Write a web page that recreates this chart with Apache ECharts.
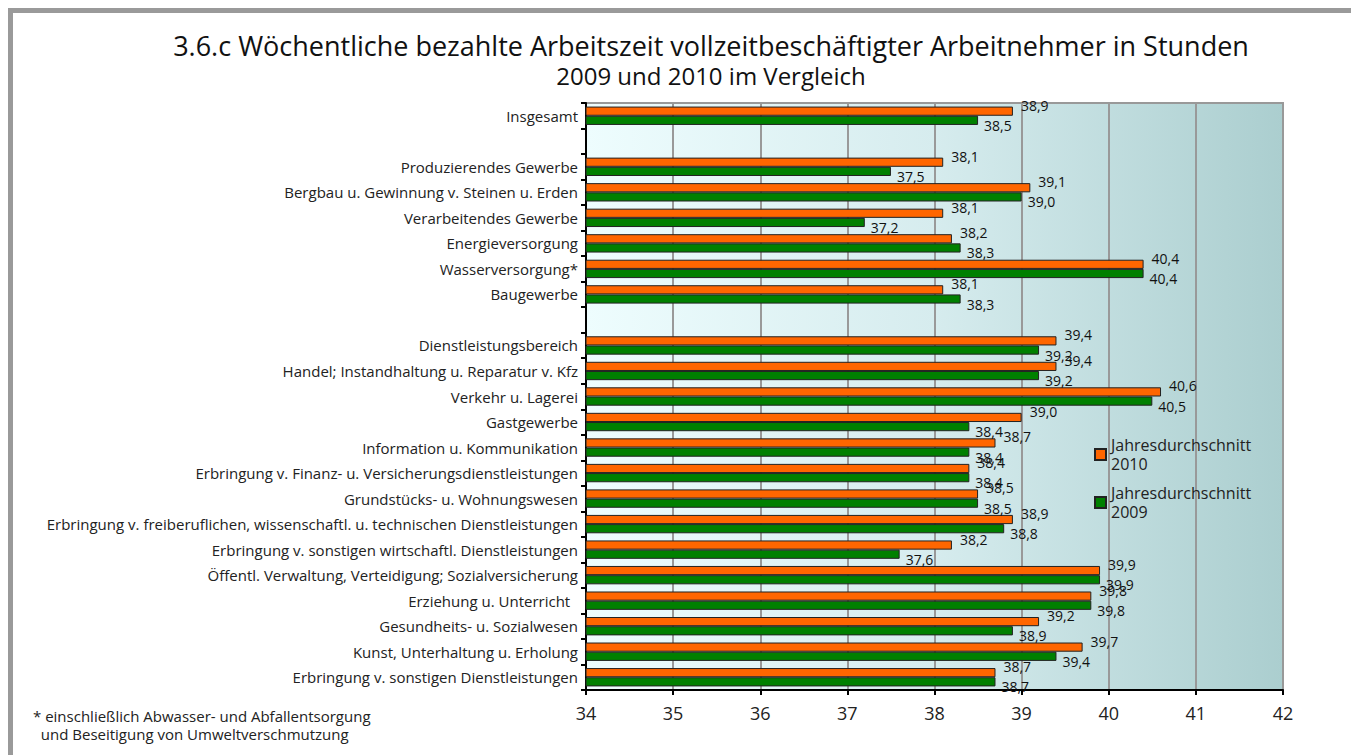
<!DOCTYPE html>
<html>
<head>
<meta charset="utf-8">
<script src="https://cdn.jsdelivr.net/npm/echarts@6/dist/echarts.min.js"></script>
<style>
  html, body { margin: 0; padding: 0; background: #fff; }
  #frame { position: absolute; left: 8px; top: 8px; width: 1400px; height: 800px; border: 5px solid #9a9a9a; box-sizing: border-box; }
  #chart { position: absolute; left: 0; top: 0; width: 1351px; height: 755px; }
</style>
</head>
<body>
<div id="frame"></div>
<div id="chart"></div>
<script>
var categories = [
  'Insgesamt',
  '',
  'Produzierendes Gewerbe',
  'Bergbau u. Gewinnung v. Steinen u. Erden',
  'Verarbeitendes Gewerbe',
  'Energieversorgung',
  'Wasserversorgung*',
  'Baugewerbe',
  ' ',
  'Dienstleistungsbereich',
  'Handel; Instandhaltung u. Reparatur v. Kfz',
  'Verkehr u. Lagerei',
  'Gastgewerbe',
  'Information u. Kommunikation',
  'Erbringung v. Finanz- u. Versicherungsdienstleistungen',
  'Grundstücks- u. Wohnungswesen',
  'Erbringung v. freiberuflichen, wissenschaftl. u. technischen Dienstleistungen',
  'Erbringung v. sonstigen wirtschaftl. Dienstleistungen',
  'Öffentl. Verwaltung, Verteidigung; Sozialversicherung',
  'Erziehung u. Unterricht  ',
  'Gesundheits- u. Sozialwesen',
  'Kunst, Unterhaltung u. Erholung',
  'Erbringung v. sonstigen Dienstleistungen'
];
var values2010 = [38.9, null, 38.1, 39.1, 38.1, 38.2, 40.4, 38.1, null, 39.4, 39.4, 40.6, 39.0, 38.7, 38.4, 38.5, 38.9, 38.2, 39.9, 39.8, 39.2, 39.7, 38.7];
var values2009 = [38.5, null, 37.5, 39.0, 37.2, 38.3, 40.4, 38.3, null, 39.2, 39.2, 40.5, 38.4, 38.4, 38.4, 38.5, 38.8, 37.6, 39.9, 39.8, 38.9, 39.4, 38.7];
var xTicks = { min: 34, max: 42, interval: 1 };

var font = '"Open Sans", "Noto Sans", sans-serif';
function fmt(p) { return p.value == null ? '' : p.value.toFixed(1).replace('.', ','); }

var chart = echarts.init(document.getElementById('chart'), null, { renderer: 'svg' });
chart.setOption({
  animation: false,
  textStyle: { fontFamily: font },
  title: [{
    text: '{a|3.6.c Wöchentliche bezahlte Arbeitszeit vollzeitbeschäftigter Arbeitnehmer in Stunden}\n{b|2009 und 2010 im Vergleich}',
    left: 706, top: 25, textAlign: 'center',
    textStyle: {
      fontFamily: font, fontWeight: 'normal',
      rich: {
        a: { fontSize: 27, fontWeight: 'normal', color: '#111', lineHeight: 30, fontFamily: font },
        b: { fontSize: 24, fontWeight: 'normal', color: '#111', lineHeight: 30, fontFamily: font }
      }
    }
  }, {
    text: '* einschließlich Abwasser- und Abfallentsorgung\n  und Beseitigung von Umweltverschmutzung',
    left: 28, top: 702,
    textStyle: { fontSize: 15, fontWeight: 'normal', color: '#222', lineHeight: 18, fontFamily: font }
  }],
  legend: {
    orient: 'vertical',
    left: 1094, top: 426,
    padding: 0,
    itemWidth: 11, itemHeight: 11, itemGap: -9,
    icon: 'rect',
    data: ['Jahresdurchschnitt 2010', 'Jahresdurchschnitt 2009'],
    formatter: function(n) { return n.replace(' ', '\n'); },
    textStyle: { fontSize: 16, color: '#222', lineHeight: 19, padding: [19, 0, 0, 0], fontFamily: font }
  },
  grid: {
    left: 586, right: 68, top: 103, bottom: 65,
    show: true,
    borderColor: '#999', borderWidth: 2,
    backgroundColor: new echarts.graphic.LinearGradient(0, 0, 1, 0, [
      { offset: 0, color: '#eefdfe' },
      { offset: 0.5, color: '#d6ecee' },
      { offset: 1, color: '#abcecf' }
    ])
  },
  xAxis: {
    type: 'value',
    min: xTicks.min, max: xTicks.max, interval: xTicks.interval,
    axisLine: { show: true, lineStyle: { color: '#000', width: 2 } },
    axisTick: { show: true, length: 5, lineStyle: { color: '#000', width: 2 } },
    axisLabel: { color: '#222', fontSize: 18, margin: 14 },
    splitLine: { show: true, lineStyle: { color: '#999', width: 2 } }
  },
  yAxis: {
    type: 'category',
    inverse: true,
    data: categories,
    axisLine: { show: true, lineStyle: { color: '#000', width: 2 } },
    axisTick: { show: true, length: 5, lineStyle: { color: '#000', width: 2 } },
    axisLabel: { color: '#222', fontSize: 15, margin: 8 }
  },
  series: [{
    name: 'Jahresdurchschnitt 2010',
    type: 'bar',
    data: values2010,
    barGap: '0%',
    barCategoryGap: '28%',
    itemStyle: { color: '#ff6600', borderColor: '#222', borderWidth: 1 },
    label: { show: true, position: 'right', distance: 8, offset: [0, -6], color: '#111', fontSize: 14, formatter: fmt }
  }, {
    name: 'Jahresdurchschnitt 2009',
    type: 'bar',
    data: values2009,
    itemStyle: { color: '#008000', borderColor: '#222', borderWidth: 1 },
    label: { show: true, position: 'right', distance: 6, offset: [0, 5], color: '#111', fontSize: 14, formatter: fmt }
  }]
});
window.addEventListener('resize', function() { chart.resize(); });
</script>
</body>
</html>
